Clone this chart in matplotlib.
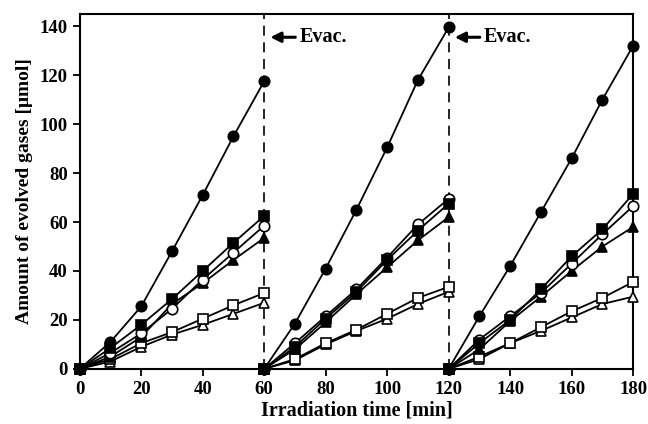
import numpy as np
import matplotlib.pyplot as plt

plt.rcParams['font.family'] = ['Liberation Serif', 'DejaVu Serif']
plt.rcParams['font.weight'] = 'bold'

# time points inside each 60 min run (gas evacuated after each run)
t_run = [0, 10, 20, 30, 40, 50, 60]
run_start = [0, 60, 120]
evac_times = [60, 120]

# amounts [umol], one list per run
filled_circle = [[0, 11, 25.5, 48, 71, 95, 117.5],
                 [0, 18.5, 41, 65, 90.5, 118, 139.5],
                 [0, 21.5, 42, 64, 86, 110, 132]]
filled_square = [[0, 8.5, 18, 28.5, 40, 51.5, 62.5],
                 [0, 9, 20.5, 31.5, 44.5, 56.5, 67.5],
                 [0, 10.5, 20, 32.5, 46, 57, 71.5]]
open_circle = [[0, 6.5, 14.5, 24.5, 36.5, 47.5, 58.5],
               [0, 10.5, 21.5, 32.5, 45.5, 59, 69.5],
               [0, 12, 21.5, 31, 43, 55, 66.5]]
filled_triangle = [[0, 5, 13, 26.5, 35, 44.5, 53.5],
                   [0, 8, 19, 30.5, 41.5, 52.5, 62],
                   [0, 8, 19.5, 29.5, 40, 50, 58]]
open_square = [[0, 4, 10.5, 15, 20.5, 26, 31],
               [0, 4, 10.5, 16, 22.5, 29, 33.5],
               [0, 5, 10.5, 17, 23.5, 29, 35.5]]
open_triangle = [[0, 3, 9, 14, 18, 22.5, 27],
                 [0, 3.5, 10, 15.5, 20.5, 26.5, 31.5],
                 [0, 4, 10.5, 15.5, 21, 26.5, 29.5]]

series = [
    (open_triangle, '^', 'white'),
    (open_square, 's', 'white'),
    (filled_triangle, '^', 'black'),
    (open_circle, 'o', 'white'),
    (filled_square, 's', 'black'),
    (filled_circle, 'o', 'black'),
]

fig = plt.figure(figsize=(6.48, 4.24), dpi=100)
ax = fig.add_axes([0.123, 0.130, 0.854, 0.837])

for xv in evac_times:
    ax.plot([xv, xv], [0, 145], color='black', lw=1.2, ls=(0, (6, 4)), zorder=2)

for vals, m, fc in series:
    for k, st in enumerate(run_start):
        tt = np.array(t_run) + st
        ax.plot(tt, vals[k], color='black', lw=1.3, marker=m, ms=7.5,
                mfc=fc, mec='black', mew=1.2, clip_on=False, zorder=3)

for xv in evac_times:
    ax.annotate('Evac.', xy=(xv + 2, 135.5), xytext=(xv + 11.5, 135.5),
                fontsize=14.5, fontweight='bold', va='center', ha='left',
                bbox=dict(fc='white', ec='none', pad=1),
                arrowprops=dict(arrowstyle='-|>', color='black', lw=2.2,
                                mutation_scale=15, shrinkA=2, shrinkB=0),
                zorder=4)

ax.set_xlim(0, 180)
ax.set_ylim(0, 145)
ax.set_xticks(range(0, 181, 20))
ax.set_yticks(range(0, 141, 20))
ax.tick_params(direction='out', length=5, width=1.3, labelsize=13.5)
for lab in ax.get_xticklabels() + ax.get_yticklabels():
    lab.set_fontweight('bold')
for s in ax.spines.values():
    s.set_linewidth(1.5)

ax.set_xlabel('Irradiation time [min]', fontsize=14.5, fontweight='bold', labelpad=2)
ax.set_ylabel('Amount of evolved gases [μmol]', fontsize=14, fontweight='bold', labelpad=5)

fig.savefig('out.png', dpi=100)
